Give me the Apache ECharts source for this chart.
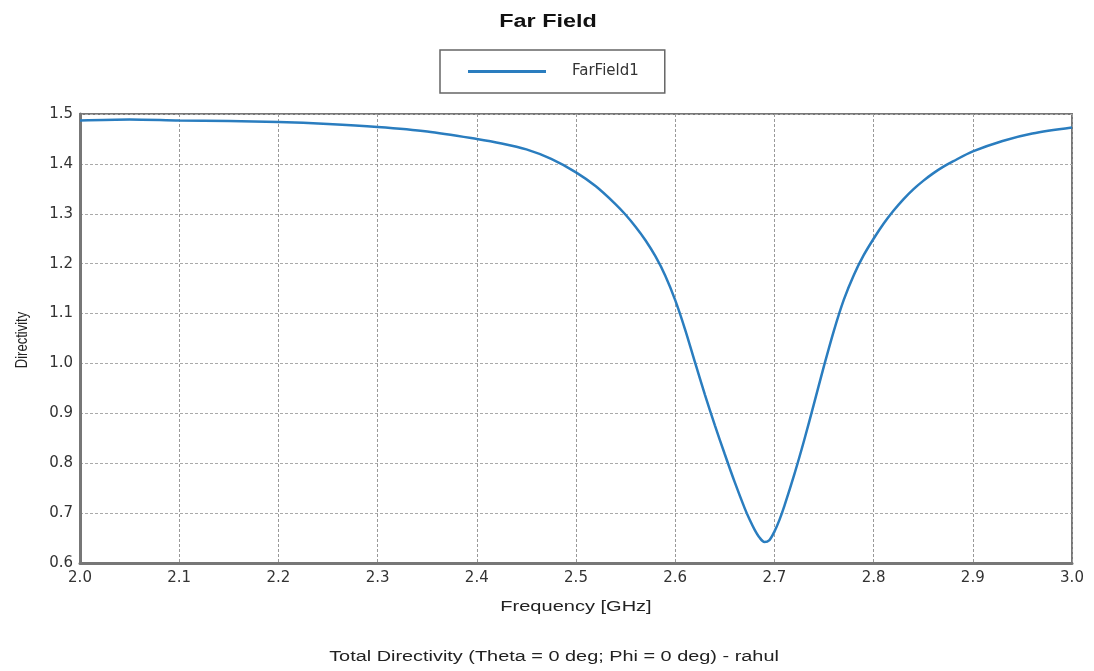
<!DOCTYPE html>
<html>
<head>
<meta charset="utf-8">
<script src="https://cdn.jsdelivr.net/npm/echarts@6/dist/echarts.min.js"></script>
<style>
  html, body { margin: 0; padding: 0; background: #fff; }
  #chart { width: 1094px; height: 671px; }
</style>
</head>
<body>
<div id="chart"></div>
<script>
// frequency in GHz
const freq = [2.00, 2.05, 2.10, 2.15, 2.20, 2.25, 2.30, 2.35, 2.40, 2.425, 2.45, 2.475, 2.50, 2.52, 2.54, 2.55, 2.56, 2.57, 2.58, 2.59, 2.60,
  2.61, 2.62, 2.63, 2.64, 2.65, 2.66, 2.67, 2.675, 2.68, 2.685, 2.69, 2.695, 2.70, 2.705, 2.71, 2.72, 2.73, 2.74, 2.75, 2.76,
  2.77, 2.78, 2.79, 2.80, 2.81, 2.82, 2.83, 2.84, 2.85, 2.86, 2.87, 2.88, 2.90, 2.93, 2.96, 3.00]
// total directivity
const directivity = [1.487, 1.489, 1.487, 1.486, 1.484, 1.480, 1.474, 1.465, 1.450, 1.441, 1.429, 1.410, 1.383, 1.355, 1.319, 1.298, 1.274, 1.247, 1.215, 1.176, 1.127,
  1.068, 1.002, 0.937, 0.876, 0.818, 0.762, 0.710, 0.687, 0.667, 0.651, 0.642, 0.646, 0.663, 0.686, 0.714, 0.777, 0.846, 0.920, 0.995, 1.066,
  1.128, 1.177, 1.217, 1.250, 1.280, 1.306, 1.329, 1.349, 1.366, 1.381, 1.394, 1.405, 1.425, 1.446, 1.461, 1.473]

const chart = echarts.init(document.getElementById('chart'))

const font = '"Liberation Sans", Arial, sans-serif'
const tickFont = '"DejaVu Sans", sans-serif'

chart.setOption({
  animation: false,
  legend: {
    data: [{ name: 'FarField1', icon: 'rect' }],
    left: 440,
    top: 50,
    padding: [14, 26, 14, 28],
    borderColor: '#666',
    borderWidth: 1.5,
    itemWidth: 78,
    itemHeight: 3,
    textStyle: { fontFamily: tickFont, fontSize: 15, color: '#333', padding: [0, 0, 0, 21] }
  },
  graphic: [
    {
      type: 'text',
      x: 548,
      y: 22,
      scaleX: 1.3,
      style: {
        text: 'Far Field',
        font: 'bold 18px ' + font,
        fill: '#111',
        align: 'center',
        verticalAlign: 'middle'
      }
    },
    {
      type: 'text',
      x: 576,
      y: 607,
      scaleX: 1.43,
      style: {
        text: 'Frequency [GHz]',
        font: '14px ' + font,
        fill: '#222',
        align: 'center',
        verticalAlign: 'middle'
      }
    },
    {
      type: 'text',
      x: 554,
      y: 657,
      scaleX: 1.42,
      style: {
        text: 'Total Directivity (Theta = 0 deg; Phi = 0 deg) - rahul',
        font: '14px ' + font,
        fill: '#222',
        align: 'center',
        verticalAlign: 'middle'
      }
    },
    {
      type: 'text',
      x: 22,
      y: 340,
      rotation: Math.PI / 2,
      scaleY: 1.3,
      style: {
        text: 'Directivity',
        font: '13px ' + font,
        fill: '#222',
        align: 'center',
        verticalAlign: 'middle'
      }
    }
  ],
  grid: {
    left: 80,
    right: 22,
    top: 114,
    bottom: 108,
    show: true,
    borderColor: '#777',
    borderWidth: 2
  },
  xAxis: {
    type: 'value',
    min: 2.0,
    max: 3.0,
    interval: 0.1,
    axisLine: { show: true, lineStyle: { color: '#777', width: 3 } },
    axisTick: { show: false },
    axisLabel: {
      fontFamily: tickFont, fontSize: 15, color: '#333', margin: 8,
      formatter: v => v.toFixed(1)
    },
    splitLine: { show: true, lineStyle: { color: '#999', type: [3, 2], width: 1 } }
  },
  yAxis: {
    type: 'value',
    min: 0.6,
    max: 1.5,
    interval: 0.1,
    axisLine: { show: true, lineStyle: { color: '#777', width: 3 } },
    axisTick: { show: false },
    axisLabel: {
      fontFamily: tickFont, fontSize: 15, color: '#333', margin: 7,
      formatter: v => v.toFixed(1)
    },
    splitLine: { show: true, lineStyle: { color: '#aaa', type: [3, 2], width: 1 } }
  },
  series: [
    {
      name: 'FarField1',
      type: 'line',
      data: freq.map((f, i) => [f, directivity[i]]),
      smooth: 0.3,
      symbol: 'none',
      lineStyle: { color: '#2a7dbf', width: 2.5 },
      itemStyle: { color: '#2a7dbf' }
    }
  ]
})
</script>
</body>
</html>
